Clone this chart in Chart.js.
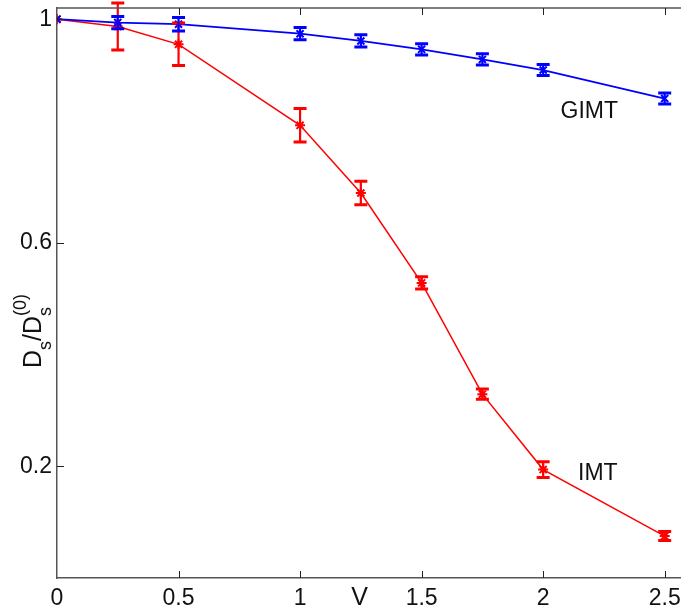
<!DOCTYPE html>
<html>
<head>
<meta charset="utf-8">
<script src="https://cdn.jsdelivr.net/npm/chart.js@4/dist/chart.umd.min.js"></script>
<style>
  html, body { margin: 0; padding: 0; background: #fff; overflow: hidden; }
  #wrap { width: 700px; height: 614px; }
</style>
</head>
<body>
<div id="wrap"><canvas id="chart" width="700" height="614"></canvas></div>
<script>
// data
const vValues = [0, 0.25, 0.5, 1, 1.25, 1.5, 1.75, 2, 2.5];
const gimt = [1.0, 0.994, 0.991, 0.974, 0.961, 0.946, 0.928, 0.909, 0.858];
const gimtErr = [0, 0.011, 0.012, 0.011, 0.011, 0.010, 0.010, 0.010, 0.010];
const imt = [1.0, 0.987, 0.955, 0.810, 0.689, 0.528, 0.329, 0.194, 0.075];
const imtErr = [0, 0.042, 0.038, 0.030, 0.021, 0.011, 0.009, 0.014, 0.008];
const xTicks = [0, 0.5, 1, 1.5, 2, 2.5];
const yTicks = [0.2, 0.6, 1];

const FONT = "'Liberation Sans', Arial, sans-serif";
const AXIS_COLOR = '#555';

function points(ys) {
    return vValues.map(function(v, i) { return { x: v, y: ys[i] }; });
}

// error bars, inward ticks, top border and text labels
const extras = {
    id: 'extras',
    afterDatasetsDraw: function(chart) {
        const ctx = chart.ctx;
        const xs = chart.scales.x, ys = chart.scales.y;
        function bars(vals, errs, color) {
            ctx.save();
            ctx.strokeStyle = color;
            vals.forEach(function(val, i) {
                if (!errs[i]) return;
                const px = xs.getPixelForValue(vValues[i]);
                const top = ys.getPixelForValue(val + errs[i]);
                const bot = ys.getPixelForValue(val - errs[i]);
                ctx.lineWidth = 2.2;
                ctx.beginPath();
                ctx.moveTo(px, top); ctx.lineTo(px, bot);
                ctx.stroke();
                ctx.lineWidth = 3;
                ctx.beginPath();
                ctx.moveTo(px - 6.5, top); ctx.lineTo(px + 6.5, top);
                ctx.moveTo(px - 6.5, bot); ctx.lineTo(px + 6.5, bot);
                ctx.stroke();
            });
            ctx.restore();
        }
        bars(imt, imtErr, '#ff0000');
        bars(gimt, gimtErr, '#0000ff');
    },
    afterDraw: function(chart) {
        const ctx = chart.ctx;
        const a = chart.chartArea;
        const xs = chart.scales.x, ys = chart.scales.y;
        ctx.save();
        // top border
        ctx.strokeStyle = AXIS_COLOR;
        ctx.lineWidth = 1.5;
        ctx.beginPath();
        ctx.moveTo(a.left, a.top); ctx.lineTo(a.right, a.top);
        ctx.stroke();
        // inward tick marks
        ctx.strokeStyle = '#222';
        ctx.lineWidth = 1;
        ctx.beginPath();
        xTicks.forEach(function(t) {
            if (t === 0) return;
            const px = Math.round(xs.getPixelForValue(t)) + 0.5;
            ctx.moveTo(px, a.bottom); ctx.lineTo(px, a.bottom - 7);
            ctx.moveTo(px, a.top); ctx.lineTo(px, a.top + 7);
        });
        yTicks.forEach(function(t) {
            const py = Math.round(ys.getPixelForValue(t)) + 0.5;
            ctx.moveTo(a.left, py); ctx.lineTo(a.left + 7, py);
        });
        ctx.stroke();

        // series labels
        ctx.fillStyle = '#111';
        ctx.font = '23px ' + FONT;
        ctx.textAlign = 'center';
        ctx.textBaseline = 'middle';
        ctx.fillText('GIMT', xs.getPixelForValue(2.19), ys.getPixelForValue(0.834));
        ctx.fillText('IMT', xs.getPixelForValue(2.225), ys.getPixelForValue(0.187));

        // x axis title, on the tick-label row
        ctx.textBaseline = 'top';
        ctx.font = '25px ' + FONT;
        ctx.fillText('V', xs.getPixelForValue(1.245), a.bottom + 8);

        // y axis title D_s/D_s^(0)
        ctx.rotate(-Math.PI / 2);
        ctx.textAlign = 'left';
        ctx.textBaseline = 'alphabetic';
        const big = '25px ' + FONT;
        const small = '18px ' + FONT;
        let u = -368;
        function put(txt, font, v) {
            ctx.font = font;
            ctx.fillText(txt, u, v);
            u += ctx.measureText(txt).width;
        }
        put('D', big, 41);
        put('s', small, 51);
        put('/', big, 41);
        put('D', big, 41);
        const uAfterD = u;
        put('s', small, 51);
        u = uAfterD;
        put('(0)', small, 26);
        ctx.restore();
    }
};

const ctx = document.getElementById('chart').getContext('2d');
const chart = new Chart(ctx, {
    type: 'scatter',
    data: {
        datasets: [
            {
                label: 'GIMT',
                data: points(gimt),
                showLine: true,
                borderColor: '#0000ff',
                backgroundColor: '#0000ff',
                borderWidth: 1.8,
                pointStyle: 'crossRot',
                pointRadius: 5,
                pointBorderWidth: 2,
                tension: 0
            },
            {
                label: 'IMT',
                data: points(imt),
                showLine: true,
                borderColor: '#ff0000',
                backgroundColor: '#ff0000',
                borderWidth: 1.5,
                pointStyle: 'star',
                pointRadius: 5,
                pointBorderWidth: 2,
                tension: 0
            }
        ]
    },
    options: {
        responsive: false,
        animation: false,
        layout: { padding: { top: 8, left: 0, right: 11, bottom: 0 } },
        plugins: {
            legend: { display: false },
            tooltip: { enabled: false }
        },
        scales: {
            x: {
                type: 'linear',
                min: 0,
                max: 2.6,
                afterFit: function(s) {
                    s.height = 36;
                    s.paddingLeft = 0; s.paddingRight = 0;
                },
                afterBuildTicks: function(s) { s.ticks = xTicks.map(function(v) { return { value: v }; }); },
                grid: { display: false, drawTicks: false },
                border: { display: true, color: AXIS_COLOR, width: 1.5 },
                ticks: {
                    color: '#111',
                    padding: 7,
                    maxRotation: 0,
                    autoSkip: false,
                    font: { family: FONT, size: 23 },
                    callback: function(v) { return String(v); }
                }
            },
            y: {
                type: 'linear',
                min: 0,
                max: 1.02,
                afterFit: function(s) {
                    s.width = 57;
                    s.paddingTop = 0; s.paddingBottom = 0;
                },
                afterBuildTicks: function(s) { s.ticks = yTicks.map(function(v) { return { value: v }; }); },
                grid: { display: false, drawTicks: false },
                border: { display: true, color: AXIS_COLOR, width: 1.5 },
                ticks: {
                    color: '#111',
                    padding: 5,
                    autoSkip: false,
                    font: { family: FONT, size: 23 },
                    callback: function(v) { return String(v); }
                }
            }
        }
    },
    plugins: [extras]
});
</script>
</body>
</html>
